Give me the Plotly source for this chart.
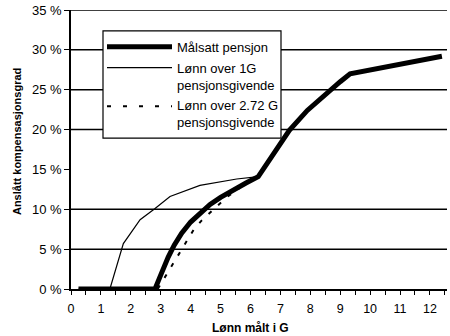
import plotly.graph_objects as go

# Target pension (thick line)
maal_x = [0.25, 2.81, 2.95, 3.1, 3.25, 3.45, 3.7, 4.0, 4.3, 4.65, 5.0, 5.4, 5.85, 6.26, 6.8, 7.3, 7.9, 8.55, 9.0, 9.33, 10.0, 11.0, 12.0, 12.4]
maal_y = [0, 0, 1.3, 2.7, 4.0, 5.5, 7.0, 8.4, 9.5, 10.6, 11.5, 12.4, 13.3, 14.1, 17.1, 19.9, 22.4, 24.6, 26.0, 27.0, 27.5, 28.2, 28.85, 29.2]

# Salary above 1G pensionable (thin line)
g1_x = [0.25, 1.3, 1.75, 2.31, 2.81, 3.31, 4.31, 5.54, 6.26]
g1_y = [0, 0, 5.7, 8.7, 10.1, 11.6, 13.0, 13.8, 14.1]

# Salary above 2.72 G pensionable (dashed line)
g272_x = [2.9, 3.14, 3.31, 3.57, 3.83, 4.11, 4.37, 4.87, 5.2, 5.65]
g272_y = [0, 1.5, 2.6, 4.3, 5.9, 7.5, 8.6, 10.4, 11.5, 12.7]

grid_levels = [5, 10, 20, 25, 30, 35]
y_ticks = [0, 5, 10, 15, 20, 25, 30, 35]
y_ticktext = [f"{v} %" for v in y_ticks]
x_ticks = list(range(0, 13))

legend_names = ["Målsatt pensjon", "Lønn over 1G<br>pensjonsgivende", "Lønn over 2.72 G<br>pensjonsgivende"]
x_title = "Lønn målt i G"
y_title = "Anslått kompensasjonsgrad"

FONT = "Liberation Sans, Arial, sans-serif"
X_MAX = 12.57

fig = go.Figure()

# horizontal grid lines (no line at 15 %)
for lvl in grid_levels:
    fig.add_shape(type="line", xref="x", yref="y", x0=0, x1=X_MAX, y0=lvl, y1=lvl,
                  line=dict(color="black", width=1.5), layer="below")

fig.add_trace(go.Scatter(x=g272_x, y=g272_y, mode="lines", showlegend=False,
                         line=dict(color="black", width=2, dash="4px,9px")))
fig.add_trace(go.Scatter(x=g1_x, y=g1_y, mode="lines", showlegend=False,
                         line=dict(color="black", width=1.2)))
fig.add_trace(go.Scatter(x=maal_x, y=maal_y, mode="lines", showlegend=False,
                         line=dict(color="black", width=5)))

# pixel -> paper helpers for the hand-drawn legend and titles
PW, PH, L, T = 376.0, 281.0, 71.0, 8.0
def px(xp):
    return (xp - L) / PW
def py(yp):
    return (T + PH - yp) / PH

fig.add_shape(type="rect", xref="paper", yref="paper", x0=px(103), x1=px(281), y0=py(137), y1=py(29),
              line=dict(color="black", width=1.2), fillcolor="white", layer="above")
sample_styles = [dict(width=5), dict(width=1.2), dict(width=2, dash="4px,12px")]
sample_y = [45, 66, 105]
text_y = [46, 75, 113]
for name, st, sy, ty in zip(legend_names, sample_styles, sample_y, text_y):
    fig.add_shape(type="line", xref="paper", yref="paper", x0=px(107), x1=px(172), y0=py(sy), y1=py(sy),
                  line=dict(color="black", **st), layer="above")
    fig.add_annotation(xref="paper", yref="paper", x=px(175), y=py(ty), text=name, showarrow=False,
                       xanchor="left", yanchor="middle", align="left",
                       font=dict(family=FONT, size=13, color="black"))

fig.add_annotation(xref="paper", yref="paper", x=px(250), y=py(328), text=f"<b>{x_title}</b>",
                   showarrow=False, xanchor="center", yanchor="middle",
                   font=dict(family=FONT, size=12, color="black"))
fig.add_annotation(xref="paper", yref="paper", x=px(17), y=py(140), text=f"<b>{y_title}</b>",
                   showarrow=False, xanchor="center", yanchor="middle", textangle=-90,
                   font=dict(family=FONT, size=11, color="black"))

fig.update_layout(
    width=450, height=336,
    margin=dict(l=71, r=3, t=8, b=47),
    paper_bgcolor="white", plot_bgcolor="white",
    font=dict(family=FONT, size=12.5, color="black"),
    xaxis=dict(range=[0, X_MAX], tickvals=x_ticks, ticks="outside", ticklen=4, tickwidth=1,
               tickcolor="black", showgrid=False, zeroline=False, showline=True,
               linecolor="black", linewidth=1.5, ticklabelstandoff=3,
               minor=dict(dtick=0.5, tick0=0, ticks="outside", ticklen=4, tickcolor="black", showgrid=False)),
    yaxis=dict(range=[0, 35], tickvals=y_ticks, ticktext=y_ticktext, ticks="outside", ticklen=5,
               tickwidth=1, tickcolor="black", showgrid=False, zeroline=False, showline=True,
               linecolor="black", linewidth=1.5, tickfont=dict(size=13)),
)

fig.write_html("out.html")
